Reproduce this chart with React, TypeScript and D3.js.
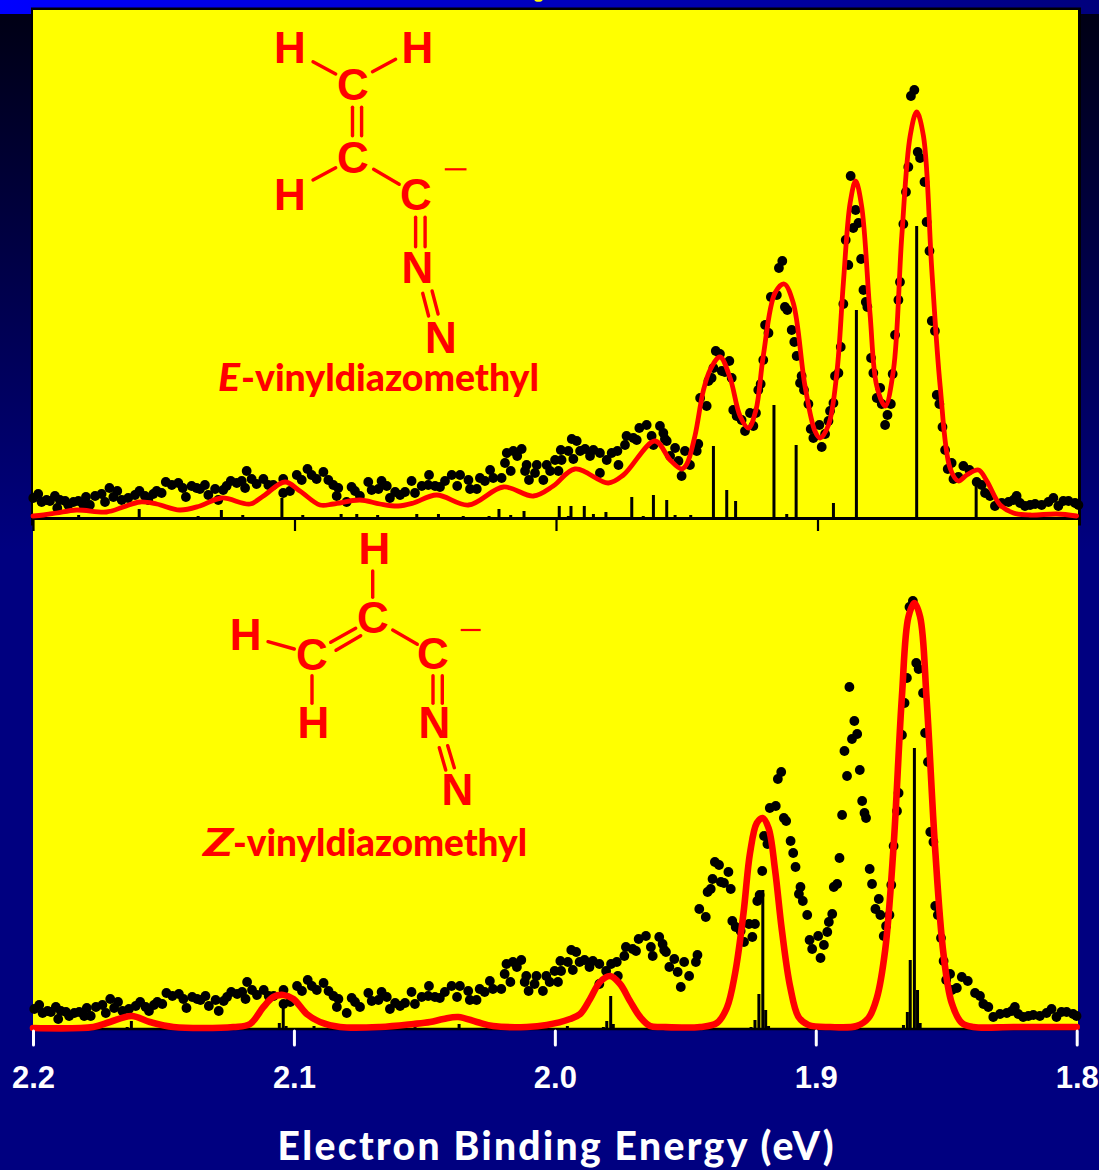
import React, { useEffect, useRef } from "react";
import { select, scaleLinear, line, curveCatmullRom, axisBottom } from "d3";

// measured spectrum, [binding energy eV, signal], same trace in both panels
const expPoints = [
  [2.1999,20],[2.198,24],[2.1967,16],[2.1948,18],[2.1935,17],[2.1916,22],[2.1907,10],[2.1897,18],[2.1877,17],[2.1865,13],
  [2.1845,16],[2.1826,17],[2.1807,13],[2.1797,21],[2.1782,13],[2.1762,22],[2.1737,24],[2.1724,16],[2.1707,30],[2.1692,21],
  [2.1677,27],[2.166,18],[2.1635,20],[2.1609,23],[2.1592,27],[2.1571,22],[2.1558,18],[2.1539,24],[2.1526,27],[2.1507,25],
  [2.1491,36],[2.1468,33],[2.1443,35],[2.1426,30],[2.1414,21],[2.1392,32],[2.1373,30],[2.136,29],[2.1341,33],[2.1328,23],
  [2.1302,29],[2.129,18],[2.1271,28],[2.1258,32],[2.1242,37],[2.1219,35],[2.12,37],[2.1187,30],[2.1181,47],[2.1162,39],
  [2.1143,34],[2.1117,39],[2.1098,33],[2.1079,33],[2.1041,39],[2.1041,25],[2.1015,27],[2.0989,43],[2.097,38],[2.0948,49],
  [2.0932,43],[2.0913,39],[2.0887,46],[2.0868,38],[2.0849,33],[2.083,30],[2.0836,22],[2.0798,16],[2.0779,31],[2.0766,27],
  [2.0747,22],[2.0715,36],[2.0702,28],[2.0676,29],[2.0664,37],[2.0644,32],[2.0632,20],[2.0612,26],[2.0593,23],[2.0574,26],
  [2.0549,37],[2.0536,25],[2.051,32],[2.0482,43],[2.0485,33],[2.0459,32],[2.044,31],[2.0421,37],[2.0395,43],[2.0374,32],
  [2.0363,43],[2.0331,38],[2.0325,29],[2.0299,29],[2.0287,40],[2.0268,37],[2.0248,48],[2.0236,40],[2.0204,40],[2.0191,55],
  [2.0184,65],[2.0169,47],[2.0159,67],[2.0144,62],[2.0127,69],[2.0114,47],[2.0108,53],[2.0099,38],[2.0076,45],[2.0069,53],
  [2.0044,38],[2.0031,53],[2.0018,47],[1.9999,58],[1.9986,47],[1.9974,58],[1.9977,68],[1.9948,67],[1.9935,79],[1.9916,77],
  [1.9929,59],[1.9903,67],[1.9884,69],[1.9865,62],[1.9852,68],[1.9827,65],[1.9827,45],[1.9801,58],[1.9782,65],[1.9756,53],
  [1.976,67],[1.9731,73],[1.9725,82],[1.9699,80],[1.9676,90],[1.9686,78],[1.9648,93],[1.9629,82],[1.9622,73],[1.9597,92],
  [1.9578,79],[1.9584,85],[1.9571,77],[1.9539,70],[1.9558,62],[1.9526,57],[1.9501,67],[1.9514,42],[1.9482,53],[1.9456,67],
  [1.945,74],[1.9443,120],[1.9418,112],[1.9411,137],[1.9399,140],[1.9392,150],[1.9383,167],[1.9367,164],[1.936,147],[1.9348,146],
  [1.9331,157],[1.9322,140],[1.9316,108],[1.9303,102],[1.9284,98],[1.9271,87],[1.9252,105],[1.9239,92],[1.9229,105],[1.922,128],
  [1.9211,134],[1.9201,158],[1.9194,193],[1.9181,185],[1.9172,221],[1.9149,223],[1.9141,250],[1.9128,257],[1.9118,211],[1.9109,208],
  [1.9092,188],[1.9082,176],[1.9073,162],[1.906,135],[1.9054,142],[1.9045,128],[1.9028,114],[1.9019,89],[1.9009,80],[1.8986,93],
  [1.8977,71],[1.8964,84],[1.8951,97],[1.8945,107],[1.8932,115],[1.8926,142],[1.8913,145],[1.8904,171],[1.8894,214],[1.8885,278],
  [1.8875,253],[1.8866,342],[1.8856,290],[1.8847,308],[1.8836,295],[1.8826,259],[1.8817,228],[1.8808,216],[1.8802,211],[1.8788,160],
  [1.8779,145],[1.8766,120],[1.8753,130],[1.8747,114],[1.8734,93],[1.8725,103],[1.8712,114],[1.8705,144],[1.8696,183],[1.8683,218],
  [1.8677,236],[1.8664,294],[1.8654,326],[1.8645,351],[1.8635,422],[1.8622,428],[1.8609,366],[1.86,360],[1.8583,336],[1.8575,296],
  [1.8564,267],[1.8555,197],[1.8543,187],[1.8536,123],[1.8526,114],[1.8514,91],[1.8504,68],[1.8494,49],[1.8479,55],[1.8472,39],
  [1.8453,41],[1.8434,52],[1.8411,48],[1.8383,36],[1.8364,33],[1.8351,25],[1.8332,22],[1.8313,12],[1.8287,15],[1.8261,16],
  [1.8242,18],[1.823,22],[1.8217,15],[1.8198,12],[1.8178,13],[1.8159,14],[1.8134,13],[1.8108,16],[1.8089,20],[1.807,12],
  [1.8051,17],[1.8031,17],[1.8006,15],[1.7993,13],
];

// simulated envelope, E isomer
const topCurve = [
  [2.2,2],[2.196,3],[2.1909,5],[2.1833,8],[2.1718,6],[2.1654,11],[2.159,16],[2.1526,14],[2.1437,8],[2.136,12],
  [2.1277,20],[2.1168,14],[2.1117,22],[2.1034,36],[2.0977,27],[2.09,13],[2.0849,14],[2.0747,18],[2.067,14],[2.06,12],
  [2.0542,15],[2.0453,23],[2.0331,13],[2.0197,31],[2.0082,22],[2.0006,32],[1.9923,49],[1.9795,35],[1.9737,43],[1.9616,77],
  [1.9558,58],[1.9514,49],[1.9494,54],[1.9463,82],[1.9431,127],[1.9405,148],[1.9367,161],[1.9328,140],[1.929,102],[1.9258,90],[1.9229,108],
  [1.9201,162],[1.9156,225],[1.9121,234],[1.9086,215],[1.9041,132],[1.9003,87],[1.8983,80],[1.8951,93],[1.8919,145],[1.8894,235],
  [1.8868,315],[1.8847,337],[1.8824,312],[1.8792,205],[1.8766,132],[1.8734,112],[1.8702,148],[1.867,282],[1.8638,382],[1.8613,406],
  [1.8587,382],[1.8555,248],[1.8523,132],[1.8485,50],[1.8453,37],[1.8421,43],[1.8376,48],[1.8344,37],[1.8293,13],[1.8242,5],
  [1.8178,3],[1.8076,4],[1.8,2],
];

// simulated envelope, Z isomer
const bottomCurve = [
  [2.2,1],[2.1769,2],[2.1705,7],[2.1622,13],[2.1552,7],[2.1462,2],[2.1232,2],[2.1168,5],[2.1117,22],[2.1079,32],
  [2.1041,34],[2.1002,30],[2.0951,15],[2.09,7],[2.0823,2],[2.067,2],[2.0542,5],[2.0478,7],[2.0427,10],[2.037,12],
  [2.0299,7],[2.0236,3],[2.0108,2],[2.0031,4],[1.9942,10],[1.9903,15],[1.9865,30],[1.9827,47],[1.9788,53],[1.975,45],
  [1.9712,28],[1.9673,12],[1.9635,3],[1.9584,2],[1.9443,2],[1.9379,6],[1.9341,21],[1.9309,56],[1.9277,116],[1.9252,176],
  [1.9226,206],[1.9204,211],[1.9181,201],[1.9156,159],[1.913,99],[1.9098,42],[1.9066,12],[1.9028,4],[1.8945,2],[1.8843,3],
  [1.8798,11],[1.8766,31],[1.8734,79],[1.8702,182],[1.867,332],[1.8645,412],[1.8622,426],[1.86,412],[1.8575,329],[1.8543,182],
  [1.8511,76],[1.8479,26],[1.844,6],[1.8396,2],[1.8242,2],[1.8,2],
];

// calculated transitions (stick spectra)
const topSticks = [
  [2.1825,3],[2.1593,9],[2.1367,2],[2.1278,8],[2.1196,3],[2.1046,20],[2.0966,3],[2.0819,4],[2.0759,4],[2.0679,3],
  [2.0529,4],[2.0446,4],[2.0351,2],[2.0252,2],[2.0214,9],[2.0169,3],[2.0118,7],[1.9983,12],[1.9948,2],[1.9938,12],
  [1.9887,12],[1.9852,4],[1.9804,6],[1.9705,21],[1.9661,2],[1.9622,23],[1.9571,18],[1.9539,3],[1.9479,3],[1.9392,72],
  [1.9341,28],[1.9307,17],[1.916,113],[1.9111,4],[1.9075,73],[1.8932,15],[1.8844,208],[1.8613,292],[1.8385,32],
];

const bottomSticks = [
  [2.1639,2],[2.1623,8],[2.1056,6],[2.1041,22],[2.103,3],[2.0923,3],[2.0536,2],[2.0367,5],[1.9952,3],[1.9814,2],
  [1.9801,8],[1.9786,33],[1.9776,5],[1.9248,2],[1.9233,9],[1.9218,35],[1.9203,139],[1.9192,19],[1.9181,3],[1.8664,4],
  [1.8649,17],[1.8638,69],[1.8622,281],[1.861,39],[1.86,6],
];

const tickValues = [2.2, 2.1, 2.0, 1.9, 1.8];
const xTitle = "Electron Binding Energy (eV)";

const labelFont = "Lato, 'Open Sans', sans-serif";
const atomFont = "'Liberation Sans', Arial, sans-serif";

// [label, center x, baseline y]
const topAtoms = [["H",290,63],["H",417.4,63],["C",352.8,99.5],["C",352.8,172.5],["H",290,210],["C",416,210],["N",417.4,283],["N",441,352.7]];
const bottomAtoms = [["H",374.3,564.3],["C",372.9,633.3],["H",245.7,650],["C",311.9,670],["C",432.9,669.3],["H",313.3,738.3],["N",434.3,738.3],["N",457.3,805]];

// [x1, y1, x2, y2]
const topBonds = [
  [313,61.7,335.7,74],[372.5,71.7,395.6,59.3],[352.5,107.3,352.5,135.7],[361.6,107.3,361.6,135.7],
  [335.7,167.7,313,180],[373.6,169.3,399.2,184.3],[415.6,217.3,415.6,246.7],[425.1,217.3,425.1,246.7],
  [422.7,293.3,428.6,316],[432.1,291,438.1,314],
];
const bottomBonds = [
  [372.7,571,372.7,597.3],[268,641.7,294.3,649],[330.7,642.3,355.7,628.3],[336,650.3,360.7,635.7],
  [392.7,630,417.3,644.3],[312,675.7,312,703.3],[433,675.7,433,703.3],[442.3,675.7,442.3,703.3],
  [439.3,747.7,445.7,770],[447.7,745.7,454.3,767.7],
];

function Molecule({ atoms, bonds, charge }) {
  return (
    <g fill="#ff0000" stroke="none">
      {atoms.map((a, i) => (
        <text key={i} x={a[1]} y={a[2]} textAnchor="middle" fontFamily={atomFont} fontWeight="bold" fontSize={44}>{a[0]}</text>
      ))}
      {bonds.map((b, i) => (
        <line key={i} x1={b[0]} y1={b[1]} x2={b[2]} y2={b[3]} stroke="#ff0000" strokeWidth={3.4} strokeLinecap="round" />
      ))}
      <line x1={charge[0]} y1={charge[1]} x2={charge[2]} y2={charge[1]} stroke="#ff0000" strokeWidth={2.2} />
    </g>
  );
}

function IsomerLabel({ letter, x, letterWidth, rest, restX, restEnd, y }) {
  return (
    <g fill="#ff0000" fontFamily={labelFont} fontWeight="900" fontSize={37}>
      <text x={x} y={y} fontStyle="italic" textLength={letterWidth} lengthAdjust="spacingAndGlyphs">{letter}</text>
      <text x={restX} y={y} textLength={restEnd - restX} lengthAdjust="spacingAndGlyphs">{rest}</text>
    </g>
  );
}

export default function App() {
  const marksRef = useRef();

  useEffect(() => {
    const g = select(marksRef.current);
    g.selectAll("*").remove();

    const xTop = scaleLinear().domain([2.2, 1.8]).range([33, 1076.6]);
    const xTopAxis = scaleLinear().domain([2.2, 1.8]).range([33, 1079]);
    const xBottom = scaleLinear().domain([2.2, 1.8]).range([33, 1076.7]);
    // the measured trace sits a little differently under the lower axis
    const xBottomDots = scaleLinear().domain([2.2, 1.8]).range([34, 1074.7]);
    const yTop = scaleLinear().domain([0, 500]).range([518, 18]);
    const yBottom = scaleLinear().domain([0, 500]).range([1029, 529]);

    // top axis, black with ticks pointing down
    const topAxis = g.append("g").attr("transform", `translate(0,${yTop(0)})`)
      .call(axisBottom(xTopAxis).tickValues(tickValues.slice(0, 4)).tickSize(13).tickSizeOuter(0).tickFormat(() => ""));
    topAxis.select(".domain").attr("stroke", "#000").attr("stroke-width", 3);
    topAxis.selectAll(".tick line").attr("stroke", "#000").attr("stroke-width", 2.2);

    const panels = [
      { x: xTop, dotX: xTop, y: yTop, sticks: topSticks, curve: topCurve, width: 4.8 },
      { x: xBottom, dotX: xBottomDots, y: yBottom, sticks: bottomSticks, curve: bottomCurve, width: 6.6 },
    ];

    // bottom baseline
    g.append("line")
      .attr("x1", xBottom(2.2)).attr("x2", xBottom(1.8))
      .attr("y1", yBottom(0)).attr("y2", yBottom(0))
      .attr("stroke", "#000").attr("stroke-width", 2.5);

    panels.forEach(p => {
      g.append("g").selectAll("line")
        .data(p.sticks)
        .join("line")
        .attr("x1", d => p.x(d[0])).attr("x2", d => p.x(d[0]))
        .attr("y1", p.y(0)).attr("y2", d => p.y(d[1]))
        .attr("stroke", "#000").attr("stroke-width", 3);

      g.append("g").selectAll("circle")
        .data(expPoints)
        .join("circle")
        .attr("cx", d => p.dotX(d[0]))
        .attr("cy", d => p.y(d[1]))
        .attr("r", 4.9)
        .attr("fill", "#000");

      const path = line().x(d => p.x(d[0])).y(d => p.y(d[1])).curve(curveCatmullRom.alpha(0.5));
      g.append("path")
        .attr("d", path(p.curve))
        .attr("fill", "none")
        .attr("stroke", "#ff0000")
        .attr("stroke-width", p.width)
        .attr("stroke-linecap", "round")
        .attr("stroke-linejoin", "round");
    });

    // bottom axis, white
    const bottomAxis = g.append("g").attr("transform", "translate(0,1031)")
      .call(axisBottom(xBottom).tickValues(tickValues).tickSize(14).tickPadding(21).tickFormat(d => d.toFixed(1)));
    bottomAxis.select(".domain").remove();
    bottomAxis.selectAll(".tick line")
      .attr("stroke", "#fff").attr("stroke-width", 3).attr("stroke-linecap", "round");
    bottomAxis.selectAll(".tick text")
      .attr("fill", "#fff")
      .attr("font-family", atomFont)
      .attr("font-weight", "bold")
      .attr("font-size", 31);
  }, []);

  return (
    <svg width={1099} height={1170} style={{ position: "absolute", left: 0, top: 0 }}>
      <defs>
        <linearGradient id="page" x1="0" y1="0" x2="0" y2="1">
          <stop offset="0" stopColor="#000012" />
          <stop offset="0.47" stopColor="#000080" />
          <stop offset="1" stopColor="#000080" />
        </linearGradient>
        <linearGradient id="strip" x1="0" y1="0" x2="1" y2="0">
          <stop offset="0" stopColor="#0000ff" />
          <stop offset="1" stopColor="#00007c" />
        </linearGradient>
      </defs>
      <rect x={0} y={0} width={1099} height={1170} fill="url(#page)" />
      <rect x={0} y={0} width={1099} height={14} fill="url(#strip)" />
      <ellipse cx={538.5} cy={0} rx={4} ry={1.8} fill="#ffff00" />
      <rect x={31} y={7.5} width={1050} height={518} fill="#000" />
      <rect x={33} y={10} width={1045} height={1020} fill="#ffff00" />
      <Molecule atoms={topAtoms} bonds={topBonds} charge={[444.8, 169.3, 466.5]} />
      <Molecule atoms={bottomAtoms} bonds={bottomBonds} charge={[460.7, 630, 480.7]} />
      <IsomerLabel letter="E" x={218} letterWidth={22} rest="-vinyldiazomethyl" restX={241} restEnd={539} y={391} />
      <IsomerLabel letter="Z" x={203} letterWidth={30} rest="-vinyldiazomethyl" restX={233} restEnd={527} y={856} />
      <g ref={marksRef} />
      <text x={555.5} y={1160} textAnchor="middle" fill="#fff" fontFamily={labelFont} fontWeight="900" fontSize={39} textLength={556} lengthAdjust="spacing">{xTitle}</text>
    </svg>
  );
}
